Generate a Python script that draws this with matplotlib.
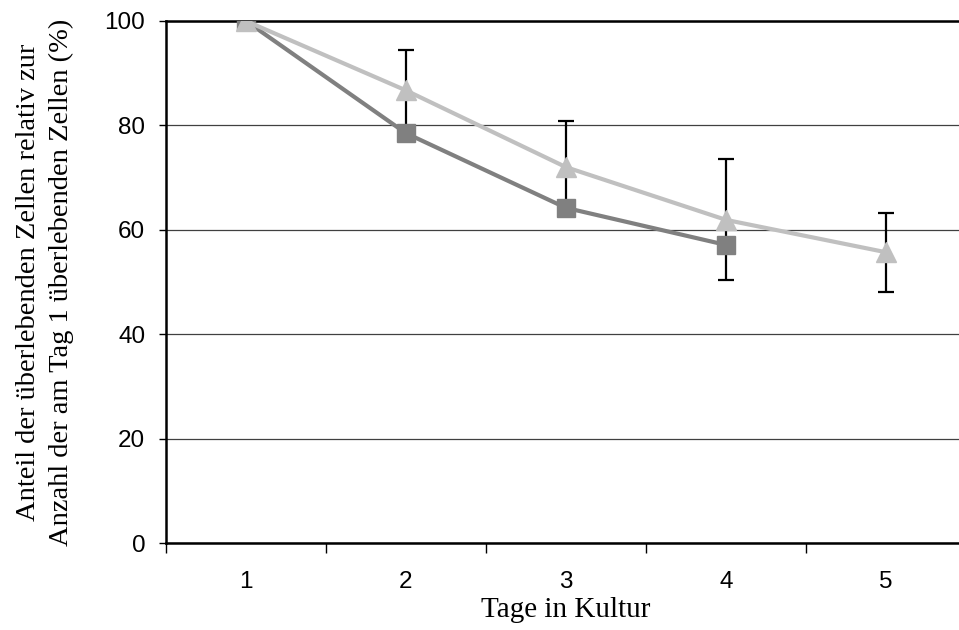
import matplotlib
matplotlib.use('Agg')
import matplotlib.pyplot as plt
import numpy as np

# Tage in Kultur
days = [1, 2, 3, 4, 5]
# dunkle Serie (Quadrate), nur bis Tag 4
dark_days = [1, 2, 3, 4]
dark_vals = [100, 78.5, 64.2, 57.1]
# helle Serie (Dreiecke) mit Fehlerbalken
light_vals = [100, 86.7, 72.0, 61.9, 55.7]
light_err = [0, 7.7, 8.8, 11.6, 7.6]

fig = plt.figure(figsize=(9.59, 6.30), dpi=100)
ax = fig.add_axes([166/959, 87/630, 800/959, 522/630])

# Fehlerbalken hinter den Markern
ax.errorbar(days, light_vals, yerr=light_err, fmt='none', ecolor='black',
            elinewidth=1.6, capsize=6, capthick=1.6, zorder=2)
ax.plot(dark_days, dark_vals, color='#808080', lw=3, marker='s',
        markersize=13.5, zorder=3)
ax.plot(days, light_vals, color='#C0C0C0', lw=3, marker='^',
        markersize=14.5, zorder=4)

ax.set_xlim(0.5, 5.5)
ax.set_ylim(0, 100)
ax.set_yticks([0, 20, 40, 60, 80, 100])
ax.yaxis.grid(True, color='#404040', lw=0.9)
ax.set_axisbelow(True)

ax.set_xticks(days)
ax.set_xticks(np.arange(0.5, 5.6, 1), minor=True)
ax.tick_params(axis='x', which='major', length=0, pad=20, labelsize=17.5)
ax.tick_params(axis='x', which='minor', length=7, width=1, direction='out')
ax.tick_params(axis='y', length=5, width=1, pad=10, labelsize=17.5)
for lab in ax.get_xticklabels() + ax.get_yticklabels():
    lab.set_fontfamily('Liberation Sans')

for s in ['left', 'top', 'bottom']:
    ax.spines[s].set_linewidth(1.8)
ax.spines['right'].set_visible(False)

ax.set_xlabel('Tage in Kultur', fontfamily='Liberation Serif', fontsize=21,
              labelpad=3)
ax.set_ylabel('Anteil der überlebenden Zellen relativ zur\n'
              'Anzahl der am Tag 1 überlebenden Zellen (%)',
              fontfamily='Liberation Serif', fontsize=20.5, labelpad=22,
              linespacing=1.4)

fig.savefig('out.png', dpi=100)
